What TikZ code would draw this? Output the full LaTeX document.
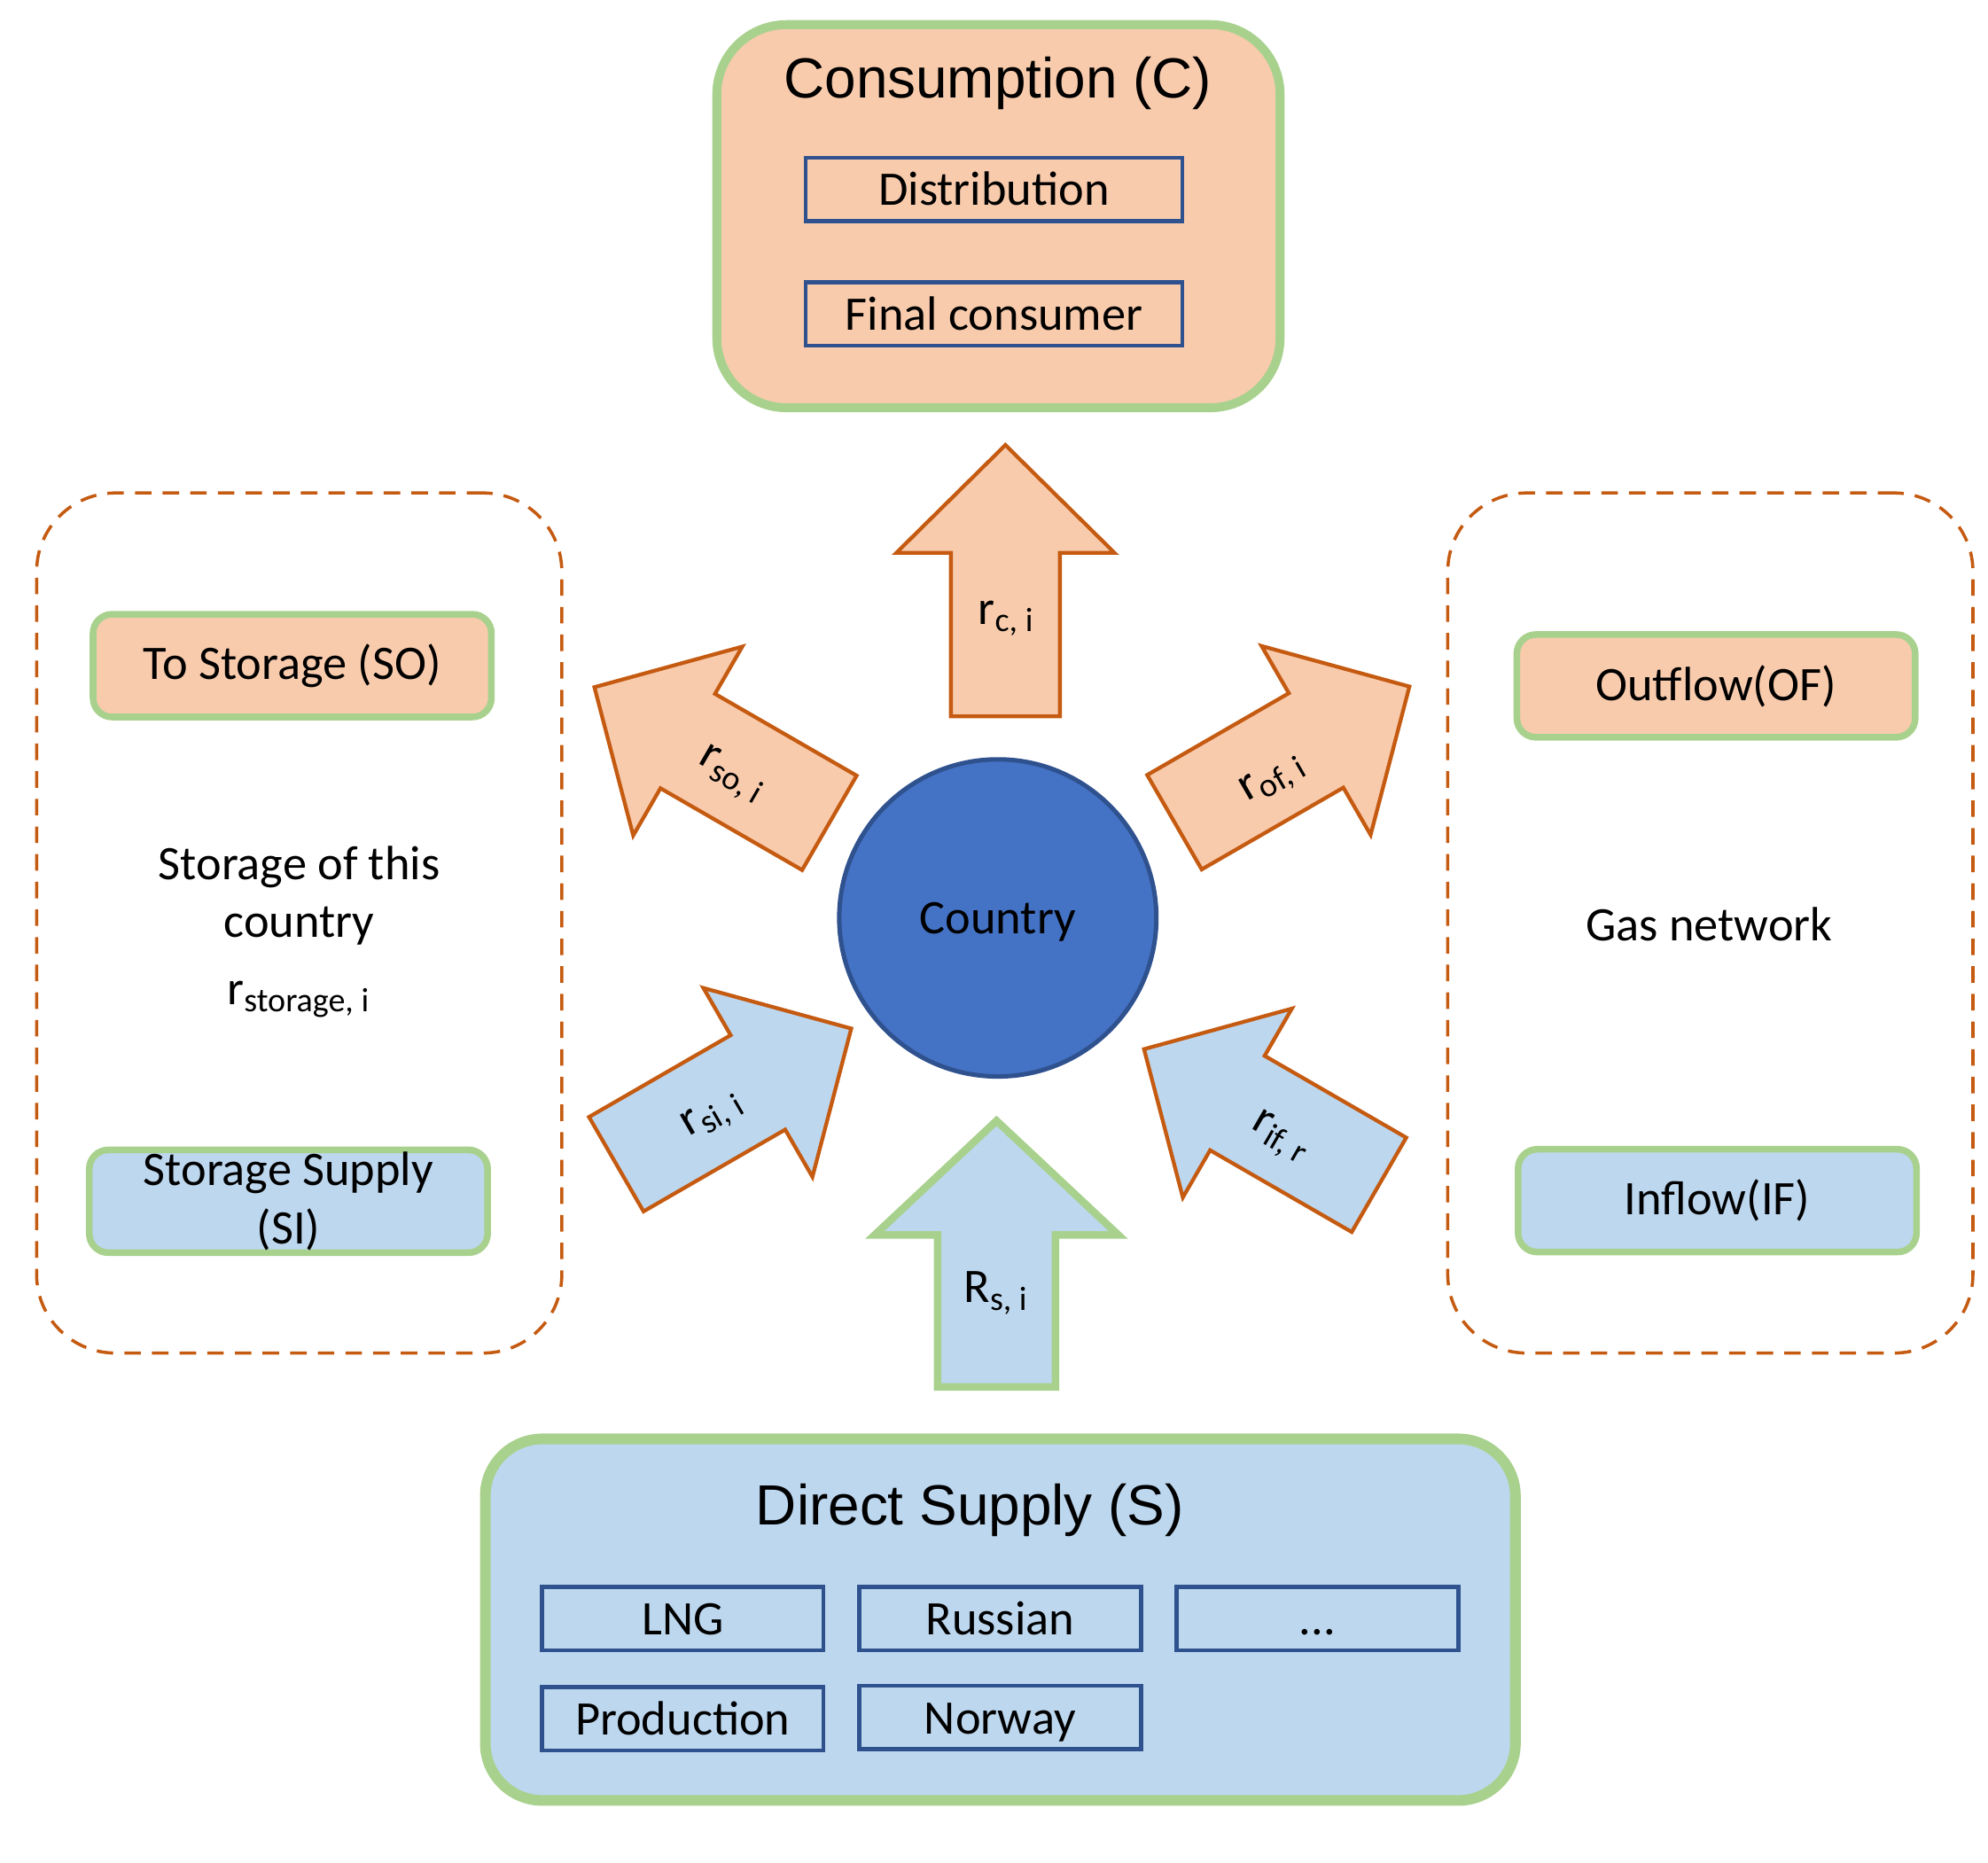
\documentclass[tikz,border=0pt]{standalone}
\usepackage{fontspec}
\setmainfont{Carlito}
\newfontfamily\headfont{Liberation Sans}
\definecolor{PeachFill}{HTML}{F8CBAD}
\definecolor{SkyFill}{HTML}{BDD7EE}
\definecolor{LeafGreen}{HTML}{A9D18E}
\definecolor{RustLine}{HTML}{C55A11}
\definecolor{NavyLine}{HTML}{2F528F}
\definecolor{CountryBlue}{HTML}{4472C4}
\usepackage{tikz}
\usetikzlibrary{
  positioning
}
\tikzset{
  blockarrow/.pic={
    \path[pic actions] (0,-107) -- (86,-22) -- (43,-22) -- (43,107)
      -- (-43,107) -- (-43,-22) -- (-86,-22) -- cycle;
  }
}

\begin{document}
\begin{tikzpicture}[
  x=0.01cm, y=-0.01cm,
  font=\fontsize{10.8}{13}\selectfont,
  panel/.style={
    rectangle, rounded corners=0.55cm,
    draw=LeafGreen, line width=2pt, inner sep=0pt
  },
  headline/.style={
    font=\headfont\fontsize{12.7}{15}\selectfont
  },
  item/.style={
    rectangle, draw=NavyLine, line width=0.9pt,
    minimum width=2.97cm, minimum height=0.5cm, inner sep=0pt,
    text height=8.2pt, text depth=1pt
  },
  tag/.style={
    rectangle, rounded corners=0.15cm,
    draw=LeafGreen, line width=1.5pt,
    minimum width=3.14cm, minimum height=0.81cm, inner sep=0pt,
    align=center
  },
  zone/.style={
    rectangle, rounded corners=0.62cm,
    draw=RustLine, line width=0.7pt, dash pattern=on 3.7pt off 2.5pt,
    minimum width=4.14cm, minimum height=6.78cm
  },
  flowout/.style={
    draw=RustLine, fill=PeachFill, line width=0.85pt
  },
  flowin/.style={
    draw=RustLine, fill=SkyFill, line width=0.85pt
  },
  supplyflow/.style={
    draw=LeafGreen, fill=SkyFill, line width=1.7pt
  }
]
  \useasboundingbox (0,0) rectangle (1568,1469);

  % Consumption
  \node[panel, fill=PeachFill, minimum width=4.44cm,
    minimum height=3.02cm] (cons) at (787.5,170.5) {};
  \node[headline] (constitle) at (787,66) {Consumption (C)};
  \node[item, fill=PeachFill] (dist) at (784,149.5) {Distribution};
  \node[item, fill=PeachFill, below=0.45cm of dist] (final) {Final consumer};

  % Storage of this country
  \node[zone] (storezone) at (236,728) {};
  \node[tag, fill=PeachFill] (toso) at (230.5,525) {To Storage (SO)};
  \node[align=center] (storetext) at (236,735)
    {Storage of this\\country\\[2pt]r\textsubscript{storage, i}};
  \node[tag, fill=SkyFill] (si) at (227.5,947.5) {Storage Supply\\(SI)};

  % Gas network
  \node[zone] (netzone) at (1349,728) {};
  \node[tag, fill=PeachFill] (of) at (1353.5,541) {Outflow(OF)};
  \node (nettext) at (1348,729) {Gas network};
  \node[tag, fill=SkyFill] (if) at (1354.5,947) {Inflow(IF)};

  % Country
  \node[circle, draw=NavyLine, fill=CountryBlue, line width=1pt,
    minimum size=2.5cm] (country) at (787,724) {};
  \node (countrytext) at (787,727) {Country};

  % Flows out of the country
  \pic[flowout] (carrow) at (793,458) {blockarrow};
  \pic[flowout, rotate=60] (soarrow) at (561.5,595.5) {blockarrow};
  \pic[flowout, rotate=-60] (ofarrow) at (1019,595) {blockarrow};
  \node (rc) at (794,488) {r\textsubscript{c, i}};
  \node[rotate=-30] (rso) at (577,612) {r\textsubscript{so, i}};
  \node[rotate=30] (rof) at (1005,615) {r\textsubscript{of, i}};

  % Flows into the country
  \pic[flowin, rotate=-60] (siarrow) at (578.75,864.75) {blockarrow};
  \pic[flowin, rotate=60] (ifarrow) at (995,881) {blockarrow};
  \draw[supplyflow] (786,884) -- (882,974) -- (832.5,974) -- (832.5,1094)
    -- (739.5,1094) -- (739.5,974) -- (690,974) -- cycle;
  \node[rotate=30] (rsi) at (563,880) {r\textsubscript{si, i}};
  \node[rotate=-30] (rif) at (1010,898) {r\textsubscript{if, r}};
  \node (rs) at (786,1020) {R\textsubscript{s, i}};

  % Direct supply
  \node[panel, fill=SkyFill, line width=2.4pt, rounded corners=0.45cm,
    minimum width=8.12cm, minimum height=2.85cm] (supply) at (789,1277.5) {};
  \node[headline] (supplytitle) at (765,1191) {Direct Supply (S)};
  \node[item, fill=SkyFill, minimum width=2.22cm] (lng) at (538.5,1276.5) {LNG};
  \node[item, fill=SkyFill, minimum width=2.22cm, right=0.25cm of lng] (russian) {Russian};
  \node[item, fill=SkyFill, minimum width=2.22cm, right=0.25cm of russian] (more) {...};
  \node[item, fill=SkyFill, minimum width=2.22cm, below=0.26cm of lng] (prod) {Production};
  \node[item, fill=SkyFill, minimum width=2.22cm, below=0.25cm of russian] (norway) {Norway};
\end{tikzpicture}
\end{document}
